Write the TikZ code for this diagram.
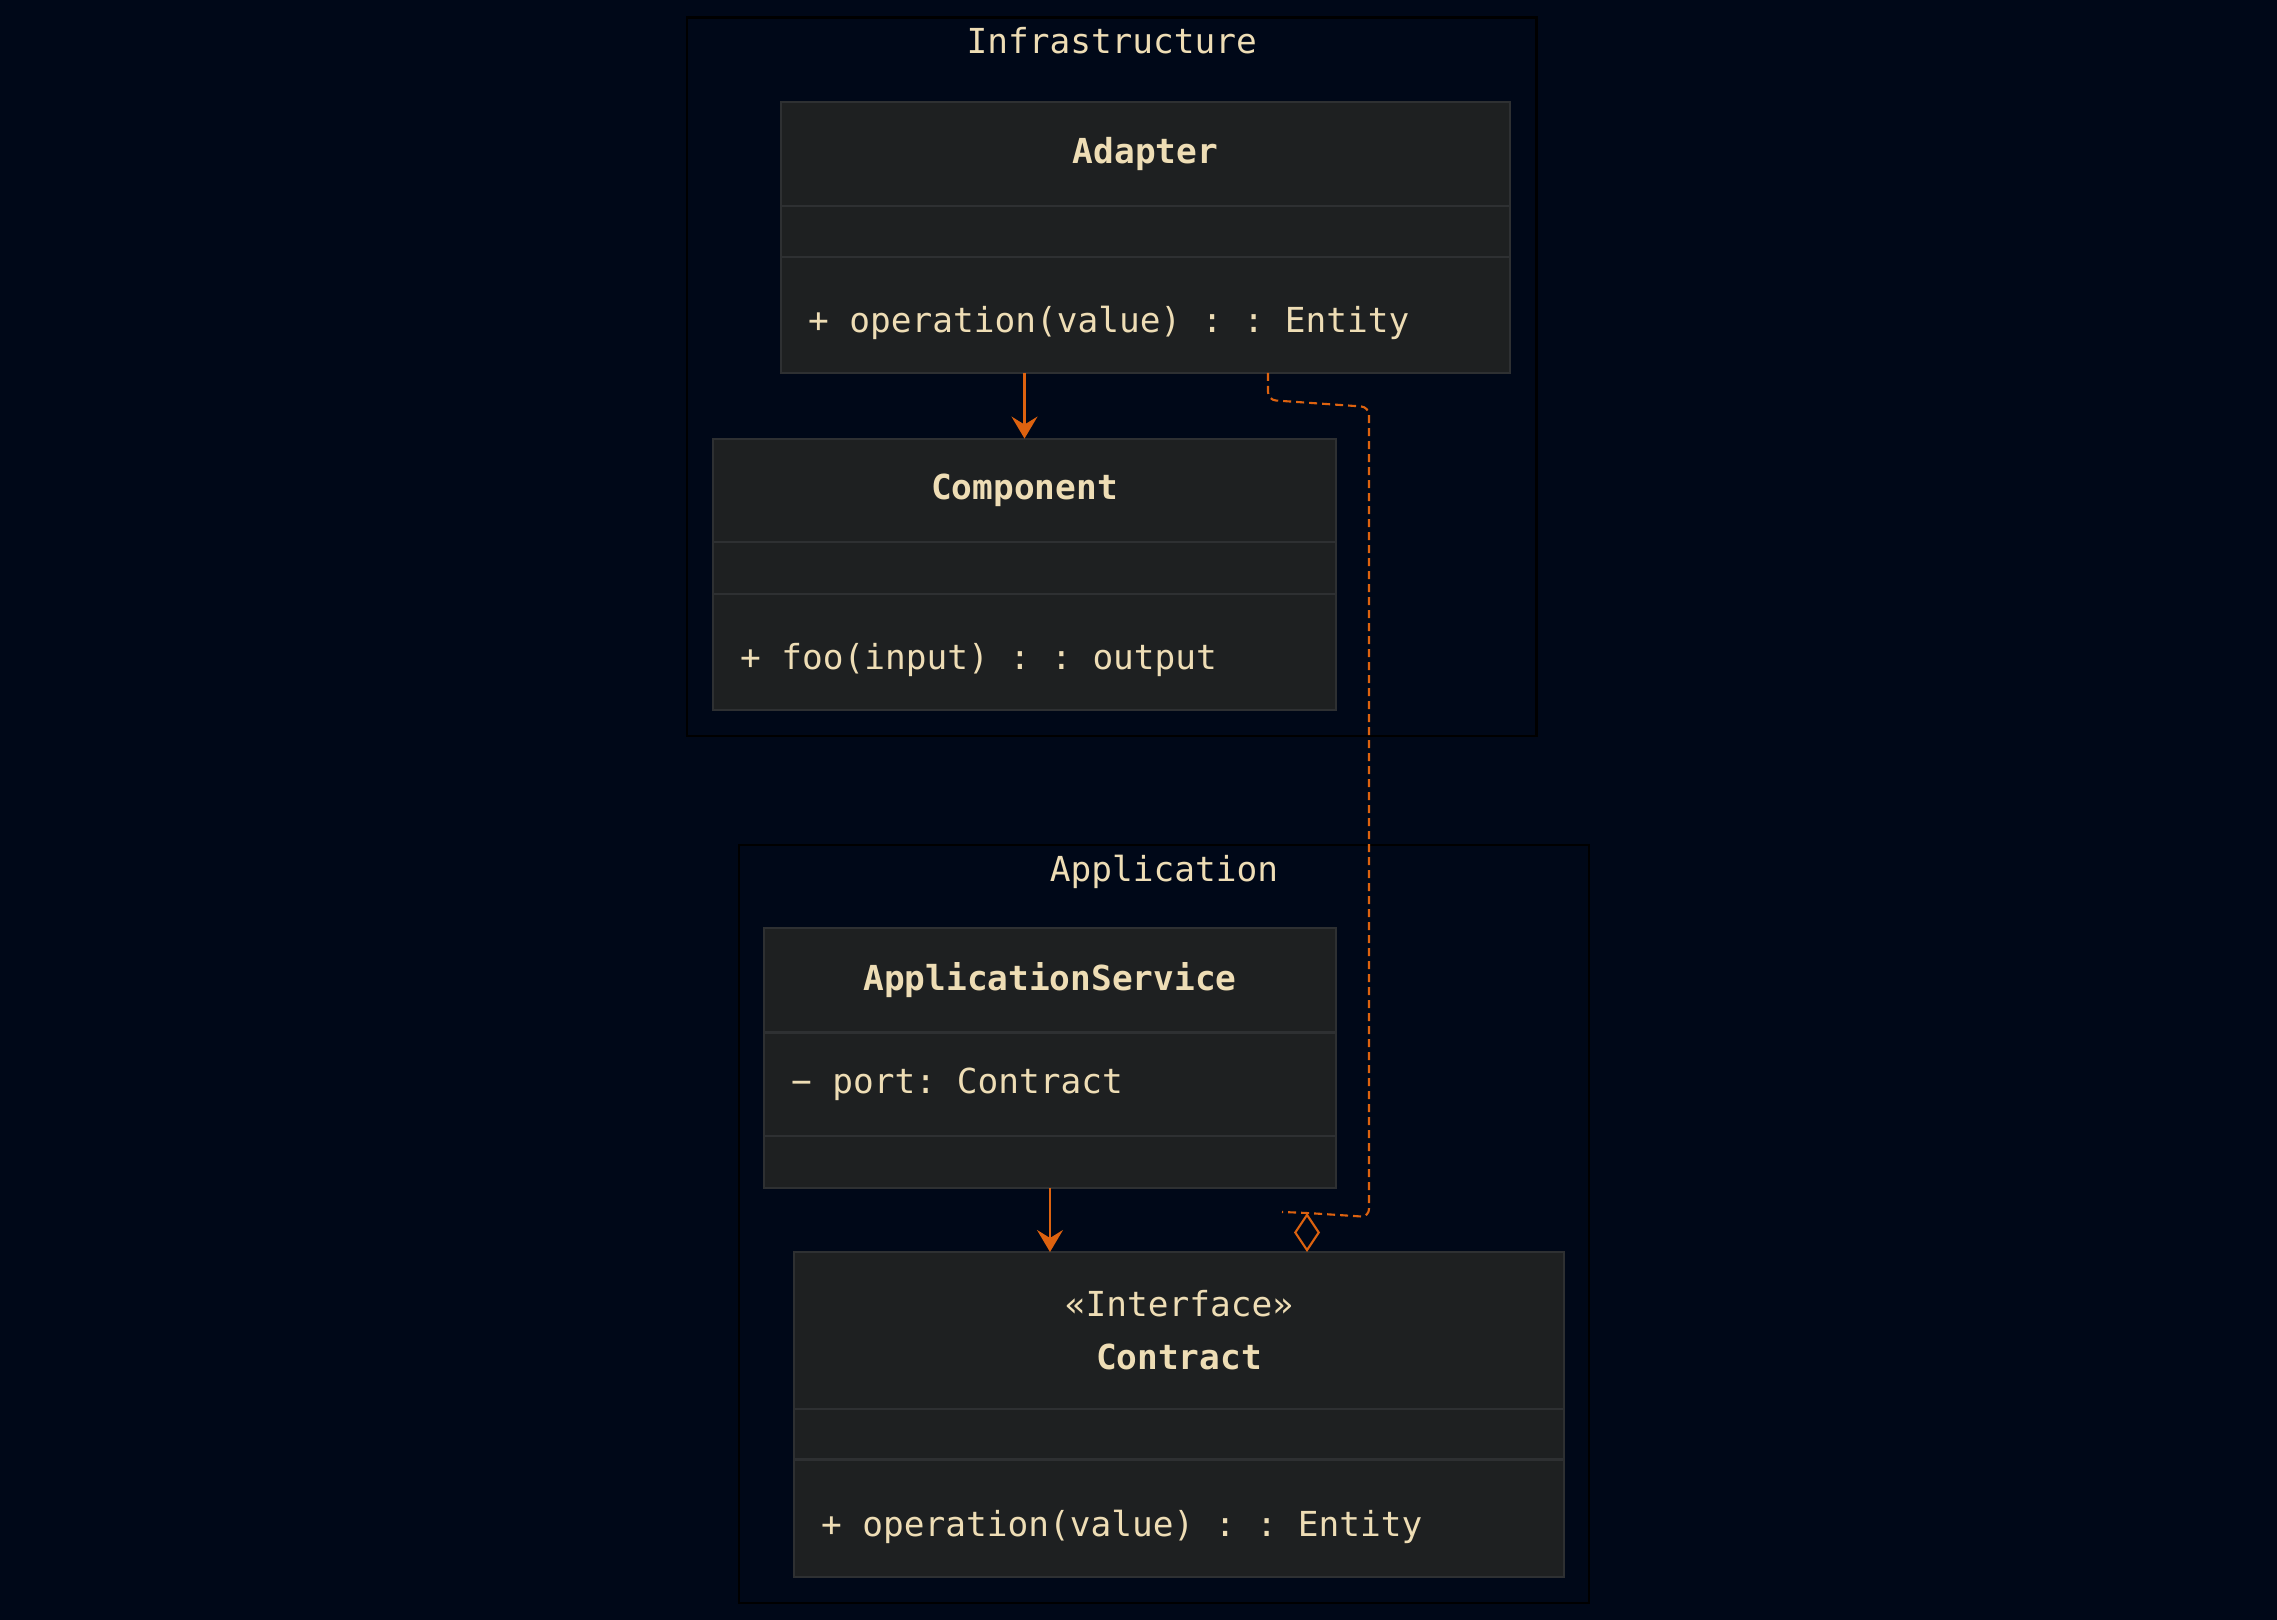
\documentclass[tikz,border=0pt]{standalone}
\usepackage{fontspec}
\setmonofont{DejaVu Sans Mono}
\definecolor{umlbg}{HTML}{000818}
\definecolor{umlbox}{HTML}{1E2021}
\definecolor{umlline}{HTML}{2E3032}
\definecolor{umltext}{HTML}{EEDDB5}
\definecolor{umlorange}{HTML}{DD620F}
\usetikzlibrary{arrows.meta,positioning}
\newcommand\umlfont{\ttfamily\fontsize{9.8pt}{14.9pt}\selectfont}
\newcommand\umlspace{\spaceskip=0.602em\relax\xspaceskip=0.602em\relax}

\tikzset{
  frame/.style={draw=black, line width=0.8pt, fill=umlbg, outer sep=0pt},
  frametitle/.style={text=umltext, font=\umlfont, inner sep=0pt},
  classsec/.style={draw=umlline, line width=0.6pt, fill=umlbox, outer sep=0pt, inner xsep=0.27cm, inner ysep=0pt, text=umltext, font=\umlfont, execute at begin node=\umlspace},
  classname/.style={classsec, align=center},
  classbody/.style={classsec, align=left},
  classmeth/.style={classbody, text height=0.36cm, text depth=0cm},
  assoc/.style={draw=umlorange, line width=0.6pt, -{Stealth[length=0.22cm, width=0.26cm, inset=0.08cm]}},
  depline/.style={draw=umlorange, line width=0.6pt, dash pattern=on 0.08cm off 0.05cm, rounded corners=0.08cm},
  aggr/.style={draw=umlorange, line width=0.6pt, -{Diamond[open, length=0.39cm, width=0.26cm]}}
}

\begin{document}
\begin{tikzpicture}
  \useasboundingbox (0,0) rectangle (22.77,16.2);
  \fill[umlbg] (0,0) rectangle (22.77,16.2);

  %% Frames
  \node[frame, minimum width=8.495cm, minimum height=7.186cm] (infra) at (11.1175,12.433) {};
  \node[frametitle] (infra-title) at ([yshift=-0.236cm]infra.north) {Infrastructure};
  \node[frame, minimum width=8.50cm, minimum height=7.58cm] (app) at (11.64,3.96) {};
  \node[frametitle] (app-title) at ([yshift=-0.27cm]app.north) {Application};

  %% Adapter
  \node[classname, text width=6.75cm, minimum height=1.043cm, anchor=north west] (adapter) at (7.81,15.183) {\bfseries Adapter};
  \node[classbody, text width=6.75cm, minimum height=0.51cm, below=0pt of adapter] (adapter-attr) {};
  \node[classmeth, text width=6.75cm, minimum height=1.16cm, below=0pt of adapter-attr] (adapter-meth) {+ operation(value) : : Entity};

  %% Component
  \node[classname, text width=5.69cm, minimum height=1.031cm, anchor=north west] (component) at (7.13,11.814) {\bfseries Component};
  \node[classbody, text width=5.69cm, minimum height=0.523cm, below=0pt of component] (component-attr) {};
  \node[classmeth, text width=5.69cm, minimum height=1.16cm, below=0pt of component-attr] (component-meth) {+ foo(input) : : output};

  %% ApplicationService
  \node[classname, text width=5.18cm, minimum height=1.045cm, anchor=north west] (appsvc) at (7.64,6.92) {\bfseries ApplicationService};
  \node[classbody, text width=5.18cm, minimum height=1.031cm, below=0pt of appsvc] (appsvc-attr) {− port: Contract};
  \node[classbody, text width=5.18cm, minimum height=0.524cm, below=0pt of appsvc-attr] (appsvc-meth) {};

  %% Contract
  \node[classname, text width=7.16cm, minimum height=1.566cm, anchor=north west] (contract) at (7.94,3.68) {«Interface»\\\bfseries Contract};
  \node[classbody, text width=7.16cm, minimum height=0.509cm, below=0pt of contract] (contract-attr) {};
  \node[classmeth, text width=7.16cm, minimum height=1.175cm, below=0pt of contract-attr] (contract-meth) {+ operation(value) : : Entity};

  %% Connectors
  \draw[assoc] (adapter-meth.south -| component.north) -- (component.north);
  \draw[assoc] (appsvc-meth.south) -- (appsvc-meth.south |- contract.north);
  \coordinate (aggtop) at ([xshift=1.28cm, yshift=0.39cm]contract.north);
  \draw[depline] ([xshift=1.225cm]adapter-meth.south) -- ++(0,-0.27) -- ++(1.01,-0.07) -- ++(0,-8.10) -- (aggtop) -- ([xshift=-0.25cm, yshift=0.01cm]aggtop);
  \draw[aggr] (aggtop) -- ([xshift=1.28cm]contract.north);
\end{tikzpicture}
\end{document}
